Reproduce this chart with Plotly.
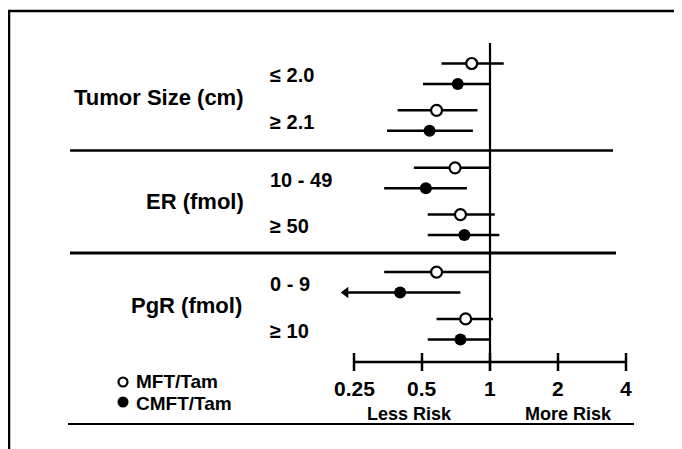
import math
import plotly.graph_objects as go

# ---------------- data ----------------
groups = ["Tumor Size (cm)", "ER (fmol)", "PgR (fmol)"]
subgroups = ["≤ 2.0", "≥ 2.1", "10 - 49", "≥ 50", "0 - 9", "≥ 10"]
series_names = ["MFT/Tam", "CMFT/Tam"]

mft_hr = [0.83, 0.58, 0.70, 0.74, 0.58, 0.78]
mft_lo = [0.61, 0.39, 0.46, 0.53, 0.34, 0.58]
mft_hi = [1.15, 0.88, 1.00, 1.05, 1.00, 1.03]

cmft_hr = [0.72, 0.54, 0.52, 0.77, 0.40, 0.74]
cmft_lo = [0.505, 0.35, 0.34, 0.53, 0.23, 0.53]
cmft_hi = [1.00, 0.84, 0.79, 1.10, 0.74, 1.00]
cmft_lo_truncated = [False, False, False, False, True, False]

tick_vals = [0.25, 0.5, 1, 2, 4]
tick_text = ["0.25", "0.5", "1", "2", "4"]

# ---------------- layout geometry ----------------
# The page body has an 8px margin; the figure fills the rest of the 682x449 window.
WIN_W, WIN_H = 682, 449
OFF = 8
W, H = WIN_W - OFF, WIN_H - OFF
FONT = "Liberation Sans, Arial, sans-serif"

def row_y(i, t):
    g, s = divmod(i, 2)
    return 63.5 + 104.3 * g + 46.8 * s + 20.5 * t

# log x mapping in window pixels: px = 490 + 68*log2(v)
def px_to_log10(px):
    return (px - 490) / 68 * math.log10(2)

def paper_x(px):
    return (px - OFF) / W

fig = go.Figure()

def ci_trace(lo, hi, t):
    xs, ys = [], []
    for i, (a, b) in enumerate(zip(lo, hi)):
        y = row_y(i, t)
        xs += [a, b, None]
        ys += [y, y, None]
    return go.Scatter(x=xs, y=ys, mode="lines", line=dict(color="black", width=2.5),
                      hoverinfo="skip", showlegend=False)

# reference vertical line at HR = 1
fig.add_trace(go.Scatter(x=[1, 1], y=[43, 371], mode="lines",
                         line=dict(color="black", width=2.2), showlegend=False, hoverinfo="skip"))

# axis line and ticks
fig.add_trace(go.Scatter(x=[min(tick_vals), max(tick_vals)], y=[362, 362], mode="lines",
                         line=dict(color="black", width=2.5), showlegend=False, hoverinfo="skip"))
tx, ty = [], []
for v in tick_vals:
    tx += [v, v, None]
    ty += [353, 371, None]
fig.add_trace(go.Scatter(x=tx, y=ty, mode="lines", line=dict(color="black", width=2.5),
                         showlegend=False, hoverinfo="skip"))

# CI lines
fig.add_trace(ci_trace(mft_lo, mft_hi, 0))
fig.add_trace(ci_trace(cmft_lo, cmft_hi, 1))

# arrow heads for truncated intervals
ax_x = [lo for lo, tr in zip(cmft_lo, cmft_lo_truncated) if tr]
ax_y = [row_y(i, 1) for i, tr in enumerate(cmft_lo_truncated) if tr]
fig.add_trace(go.Scatter(x=ax_x, y=ax_y, mode="markers",
                         marker=dict(symbol="triangle-left", size=10, color="black"),
                         showlegend=False, hoverinfo="skip"))

# point estimates
fig.add_trace(go.Scatter(x=mft_hr, y=[row_y(i, 0) for i in range(len(mft_hr))], mode="markers",
                         name=series_names[0],
                         marker=dict(symbol="circle", size=11, color="white",
                                     line=dict(color="black", width=2.2)),
                         showlegend=False))
fig.add_trace(go.Scatter(x=cmft_hr, y=[row_y(i, 1) for i in range(len(cmft_hr))], mode="markers",
                         name=series_names[1],
                         marker=dict(symbol="circle", size=12, color="black"),
                         showlegend=False))

# manual legend markers on a linear overlay axis (window pixel units)
leg_y = [382, 402]
fig.add_trace(go.Scatter(x=[123], y=[leg_y[0]], xaxis="x2", mode="markers",
                         marker=dict(symbol="circle", size=9, color="white",
                                     line=dict(color="black", width=2.2)),
                         showlegend=False, hoverinfo="skip"))
fig.add_trace(go.Scatter(x=[123], y=[leg_y[1]], xaxis="x2", mode="markers",
                         marker=dict(symbol="circle", size=11, color="black"),
                         showlegend=False, hoverinfo="skip"))

annotations = []
def ann(text, x, y, size, xanchor="left", xref="paper"):
    annotations.append(dict(text=f"<b>{text}</b>", x=x, y=y, xref=xref, yref="y",
                            xanchor=xanchor, yanchor="middle", showarrow=False,
                            font=dict(family=FONT, size=size, color="black")))

# group labels
group_x = [246, 246, 244]
for g, name in enumerate(groups):
    y = (row_y(2 * g, 0) + row_y(2 * g + 1, 1)) / 2
    ann(name, paper_x(group_x[g]), y, 22, "right")

# subgroup labels
for i, name in enumerate(subgroups):
    y = (row_y(i, 0) + row_y(i, 1)) / 2 + 1.5
    ann(name, paper_x(268), y, 20, "left")

# tick labels
for v, t in zip(tick_vals, tick_text):
    ann(t, math.log10(v), 388, 21, "center", xref="x")

ann("Less Risk", paper_x(409.5), 414, 18, "center")
ann("More Risk", paper_x(568.5), 414, 18, "center")

# legend text
ann(series_names[0], paper_x(134), 381, 19, "left")
ann(series_names[1], paper_x(134), 403, 19, "left")

shapes = []
def hline(x0, x1, y, w):
    shapes.append(dict(type="line", xref="paper", yref="y", x0=paper_x(x0), x1=paper_x(x1),
                       y0=y, y1=y, line=dict(color="black", width=w)))

# frame
hline(8, 682, 11, 2.5)
shapes.append(dict(type="line", xref="paper", yref="y", x0=paper_x(9), x1=paper_x(9),
                   y0=10, y1=449, line=dict(color="black", width=2.5)))
# separators
hline(70, 613, 150.5, 2.5)
hline(70, 616, 253, 3)
# bottom rule
hline(68, 634, 424, 2)

fig.update_layout(
    width=W, height=H, autosize=False,
    margin=dict(l=0, r=0, t=0, b=0, pad=0),
    paper_bgcolor="white", plot_bgcolor="white",
    xaxis=dict(type="log", range=[px_to_log10(OFF), px_to_log10(WIN_W)], visible=False,
               fixedrange=True),
    xaxis2=dict(range=[OFF, WIN_W], overlaying="x", visible=False, fixedrange=True),
    yaxis=dict(range=[WIN_H, OFF], visible=False, fixedrange=True),
    annotations=annotations,
    shapes=shapes,
    showlegend=False,
)

fig.write_html("out.html")
